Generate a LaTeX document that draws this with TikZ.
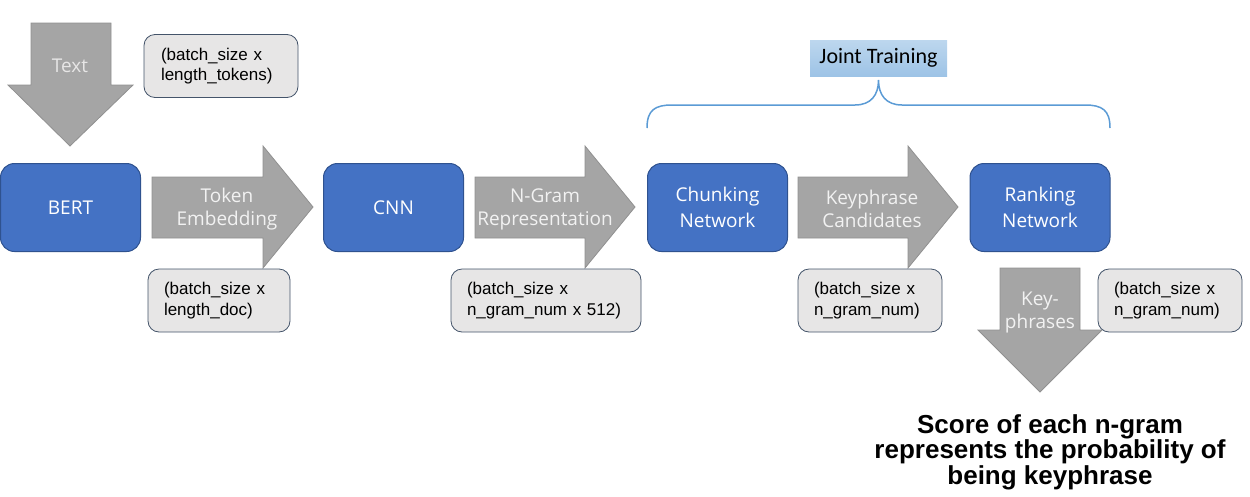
\documentclass[tikz,border=0pt]{standalone}
\usepackage{fontspec}
\setmainfont{Liberation Sans}
\newfontfamily\segoefont{Open Sans}
\newfontfamily\calibfont{Carlito}
\definecolor{blkfill}{HTML}{4472C4}
\definecolor{blkline}{HTML}{2F528F}
\definecolor{lblfill}{HTML}{E7E6E6}
\definecolor{lblline}{HTML}{44546A}
\definecolor{arrfill}{HTML}{A5A5A5}
\definecolor{arrline}{HTML}{909090}
\definecolor{arrtext}{HTML}{F2F2F2}
\definecolor{bracecol}{HTML}{5B9BD5}
\definecolor{jttop}{HTML}{BDD7EE}
\definecolor{jtbot}{HTML}{9DC3E6}
\begin{document}
\begin{tikzpicture}[x=1pt,y=-1pt,
  blk/.style={draw=blkline, line width=1pt, fill=blkfill, rounded corners=14pt,
    minimum width=140pt, minimum height=88pt, text=white, align=center,
    font=\segoefont\fontsize{19}{26}\selectfont, inner sep=0pt},
  lbl/.style={draw=lblline, line width=0.8pt, fill=lblfill, rounded corners=11pt,
    minimum height=63pt, align=left, inner sep=0pt,
    font=\fontsize{17}{20.5}\selectfont},
  arr/.style={draw=arrline, line width=0.8pt, fill=arrfill},
  arrlabel/.style={text=arrtext, align=center, inner sep=0pt,
    font=\segoefont\fontsize{19}{23}\selectfont},
  brace/.style={draw=bracecol, line width=1.5pt},
]
\useasboundingbox (0,0) rectangle (1250,496);

% block arrows
\path[arr] (31,23) -- (111,23) -- (111,85) -- (133,85) -- (70,146) -- (8,85) -- (31,85) -- cycle;
\path[arr] (152,177) -- (263,177) -- (263,146) -- (313,207) -- (263,268) -- (263,238) -- (152,238) -- cycle;
\path[arr] (475,177) -- (585,177) -- (585,146) -- (635,207) -- (585,268) -- (585,238) -- (475,238) -- cycle;
\path[arr] (798,177) -- (908,177) -- (908,146) -- (958,207) -- (908,268) -- (908,238) -- (798,238) -- cycle;
\path[arr] (1000,268) -- (1080,268) -- (1080,330) -- (1102,330) -- (1040,392) -- (978,330) -- (1000,330) -- cycle;

\node[arrlabel, text=lblfill] (ttext) at (70,66) {Text};
\node[arrlabel] (temb) at (227,209) {Token\\Embedding};
\node[arrlabel] (ngram) at (545,209) {N-Gram\\Representation};
\node[arrlabel] (kcand) at (872,209) {Keyphrase\\Candidates};
\node[arrlabel] (kphr) at (1040,312) {Key-\\phrases};

% blue blocks
\node[blk] (bert) at (70.5,207.5) {BERT};
\node[blk] (cnn) at (393.5,207.5) {CNN};
\node[blk] (chunk) at (717.5,207.5) {Chunking\\Network};
\node[blk] (rank) at (1040,207.5) {Ranking\\Network};

% shape labels
\node[lbl, minimum width=154pt, text width=120pt] (l1) at (221,66) {(batch\_size x\\length\_tokens)};
\node[lbl, minimum width=142pt, text width=110pt] (l2) at (219,300.5) {(batch\_size x\\length\_doc)};
\node[lbl, minimum width=190pt, text width=158pt] (l3) at (546,300.5) {(batch\_size x\\n\_gram\_num x 512)};
\node[lbl, minimum width=144pt, text width=112pt] (l4) at (870,300.5) {(batch\_size x\\n\_gram\_num)};
\node[lbl, minimum width=144pt, text width=112pt] (l5) at (1170,300.5) {(batch\_size x\\n\_gram\_num)};

% joint training
\node[top color=jttop, bottom color=jtbot, minimum width=137pt, minimum height=36pt,
  inner sep=0pt, font=\calibfont\fontsize{22}{24}\selectfont] (jt) at (878.5,58) {Joint Training};
\coordinate (bl) at (647,128);
\coordinate (br) at (1110,128);
\coordinate (bp) at (878.5,80);
\path[brace] (bl) .. controls (647,110) and (655,105) .. (672,105) -- (855,105)
  .. controls (871,105) and (878.5,95) .. (bp)
  .. controls (878.5,95) and (886,105) .. (902,105) -- (1085,105)
  .. controls (1102,105) and (1110,110) .. (br);

% result text
\node[align=center, inner sep=0pt, font=\bfseries\fontsize{26}{25.5}\selectfont] (res) at (1050,452)
  {Score of each n-gram\\represents the probability of\\being keyphrase};
\end{tikzpicture}
\end{document}
